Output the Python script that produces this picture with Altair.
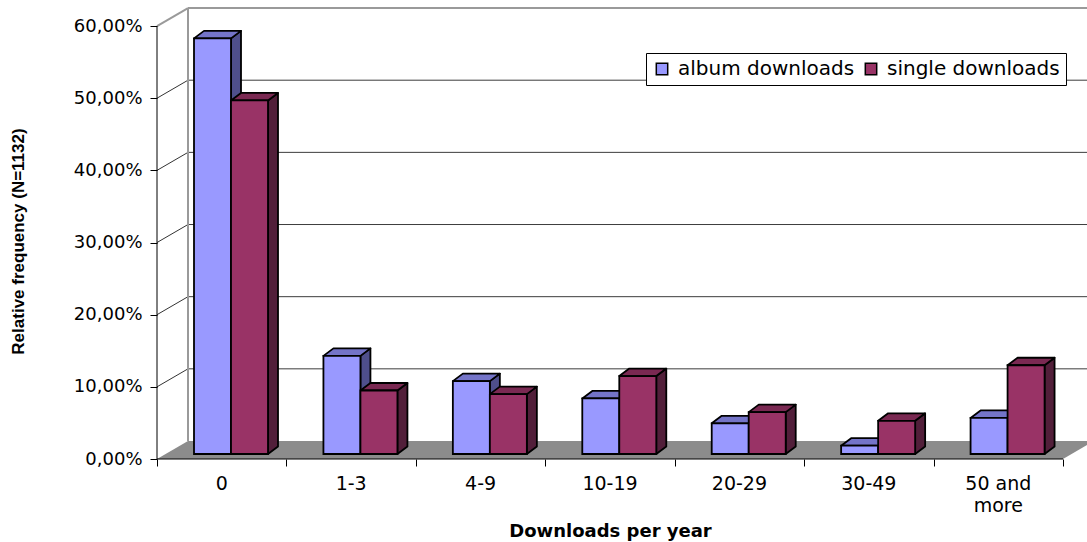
import altair as alt
import pandas as pd

# ---------------- data ----------------
categories = ["0", "1-3", "4-9", "10-19", "20-29", "30-49", "50 and more"]
album = [57.6, 13.6, 10.1, 7.7, 4.25, 1.15, 5.0]
single = [49.0, 8.8, 8.3, 10.8, 5.8, 4.6, 12.3]
series_names = ["album downloads", "single downloads"]
y_ticks = [0, 10, 20, 30, 40, 50, 60]

# ---------------- style / layout constants (pixels) ----------------
W, H = 930, 451
PAD = {"left": 157, "top": 8, "right": 0, "bottom": 83}
N = len(categories)
PX_X = 906 / N                # pixels per category band
XMAX = W / PX_X
YMAX = 62.5
PX_Y = H / YMAX               # pixels per percent


def ux(px):
    return px / PX_X


def uy(px):
    return px / PX_Y


WALL_DX, WALL_DY = ux(31), uy(18)
BAR_OFF, BAR_W = ux(37), ux(37)
BAR_DX, BAR_DY = ux(10), uy(7.5)
BAR_BASE = uy(5)

FRONT = ["#9999FF", "#993366"]
TOP = ["#7474C8", "#7A2952"]
SIDE = ["#4F4F8C", "#521F3A"]

FONT = "DejaVu Sans"

x_scale = alt.Scale(domain=[0, XMAX], nice=False, zero=False)
y_scale = alt.Scale(domain=[0, YMAX], nice=False, zero=False)

x_axis = alt.Axis(values=list(range(N + 1)), labels=False, tickSize=7, tickColor="black",
                  domain=False, grid=False, title="Downloads per year",
                  titleFont=FONT, titleFontSize=18, titleFontWeight="bold", titleColor="black",
                  titleX=453, titleY=72, titleBaseline="middle", titleAlign="center")
y_axis = alt.Axis(values=y_ticks,
                  labelExpr="replace(format(datum.value / 100, '.2%'), '.', ',')",
                  labelFont=FONT, labelFontSize=18, labelColor="black", labelPadding=8,
                  tickSize=7, tickColor="black", domain=False, grid=False,
                  title="Relative frequency (N=1132)", titleFont="Liberation Sans",
                  titleFontSize=17, titleFontWeight="bold", titleColor="black",
                  titleX=-139, titleY=233, titleAngle=270, titleBaseline="middle",
                  titleAlign="center")


def X(f):
    return alt.X(f, scale=x_scale, axis=x_axis, title="Downloads per year")


def Y(f):
    return alt.Y(f, scale=y_scale, axis=y_axis, title="Relative frequency (N=1132)")


# ---------------- build geometry tables from the data ----------------
front_rows, top_rows, side_rows = [], [], []
for i, cat in enumerate(categories):
    for s, vals in enumerate([album, single]):
        v = vals[i]
        x0 = i + BAR_OFF + s * BAR_W
        x1 = x0 + BAR_W
        y0 = BAR_BASE
        y1 = BAR_BASE + v
        bid = f"{i}-{s}"
        front_rows.append(dict(bar=bid, series=series_names[s], x0=x0, x1=x1, y0=y0, y1=y1))
        top_rows += [dict(bar=bid, col=TOP[s], y=y1, xa=x0, xb=x1),
                     dict(bar=bid, col=TOP[s], y=y1 + BAR_DY, xa=x0 + BAR_DX, xb=x1 + BAR_DX)]
        side_rows += [dict(bar=bid, col=SIDE[s], x=x1, ya=y0, yb=y1),
                      dict(bar=bid, col=SIDE[s], x=x1 + BAR_DX, ya=y0 + BAR_DY, yb=y1 + BAR_DY)]

front_df = pd.DataFrame(front_rows)
top_df = pd.DataFrame(top_rows)
side_df = pd.DataFrame(side_rows)

floor_df = pd.DataFrame([dict(y=0, xa=0, xb=N), dict(y=WALL_DY, xa=WALL_DX, xb=N + WALL_DX)])

diag_df = pd.DataFrame([dict(x=0, y=t, x2=WALL_DX, y2=t + WALL_DY,
                             col="#9a9a9a" if t == y_ticks[-1] else "#333333",
                             sw=2 if t == y_ticks[-1] else 1)
                        for t in y_ticks[1:]])
grid_df = pd.DataFrame([dict(x=WALL_DX, x2=XMAX, y=t + WALL_DY, y2=t + WALL_DY,
                             col="#9a9a9a" if t == y_ticks[-1] else "#3c3c3c",
                             sw=2 if t == y_ticks[-1] else 1)
                        for t in y_ticks[1:]] +
                       [dict(x=WALL_DX, x2=WALL_DX, y=WALL_DY, y2=y_ticks[-1] + WALL_DY,
                             col="#9a9a9a", sw=2)])
axis_df = pd.DataFrame([dict(x=0, x2=0, y=0, y2=y_ticks[-1]),
                        dict(x=0, x2=N, y=0, y2=0)])
label_df = pd.DataFrame([dict(x=i + 0.5, y=0, label=c.replace("and ", "and\n"))
                         for i, c in enumerate(categories)])

# ---------------- layers ----------------
floor = alt.Chart(floor_df).mark_area(orient="horizontal", color="#8c8c8c", clip=True).encode(
    y=Y("y:Q"), x=X("xa:Q"), x2="xb:Q")

diag = alt.Chart(diag_df).mark_rule().encode(
    x=X("x:Q"), x2="x2:Q", y=Y("y:Q"), y2="y2:Q",
    color=alt.Color("col:N", scale=None), strokeWidth=alt.StrokeWidth("sw:Q", scale=None))

grid = alt.Chart(grid_df).mark_rule().encode(
    x=X("x:Q"), x2="x2:Q", y=Y("y:Q"), y2="y2:Q",
    color=alt.Color("col:N", scale=None), strokeWidth=alt.StrokeWidth("sw:Q", scale=None))

sides = alt.Chart(side_df).mark_area(orient="vertical", stroke="black", strokeWidth=1.8,
                                     strokeJoin="round", opacity=1).encode(
    x=X("x:Q"), y=Y("ya:Q"), y2="yb:Q", detail="bar:N",
    color=alt.Color("col:N", scale=None))

tops = alt.Chart(top_df).mark_area(orient="horizontal", stroke="black", strokeWidth=1.8,
                                   strokeJoin="round", opacity=1).encode(
    y=Y("y:Q"), x=X("xa:Q"), x2="xb:Q", detail="bar:N",
    color=alt.Color("col:N", scale=None))

fronts = alt.Chart(front_df).mark_rect(stroke="black", strokeWidth=1.8, opacity=1).encode(
    x=X("x0:Q"), x2="x1:Q", y=Y("y0:Q"), y2="y1:Q",
    color=alt.Color("series:N", scale=alt.Scale(domain=series_names, range=FRONT),
                    legend=alt.Legend(title=None, orient="none", legendX=489, legendY=45,
                                      direction="horizontal", strokeColor="black",
                                      fillColor="white", padding=6, symbolType="square",
                                      symbolSize=130, symbolStrokeColor="black",
                                      symbolStrokeWidth=1.5, symbolOpacity=1,
                                      labelFont=FONT, labelFontSize=20, labelColor="black",
                                      labelLimit=0, columnPadding=6, labelOffset=6)))

axes = alt.Chart(axis_df).mark_rule(color="black", strokeWidth=1).encode(
    x=X("x:Q"), x2="x2:Q", y=Y("y:Q"), y2="y2:Q")

labels = alt.Chart(label_df).mark_text(font=FONT, fontSize=19, color="black", baseline="top",
                                       align="center", dy=16, lineBreak="\n",
                                       lineHeight=22).encode(
    x=X("x:Q"), y=Y("y:Q"), text="label:N")

chart = alt.layer(floor, diag, grid, sides, tops, fronts, axes, labels).properties(
    width=W, height=H, autosize=alt.AutoSizeParams(type="none"), padding=PAD,
    background="white"
).configure_view(stroke=None)

chart.save("out.html", embed_options={"renderer": "svg", "actions": False})
